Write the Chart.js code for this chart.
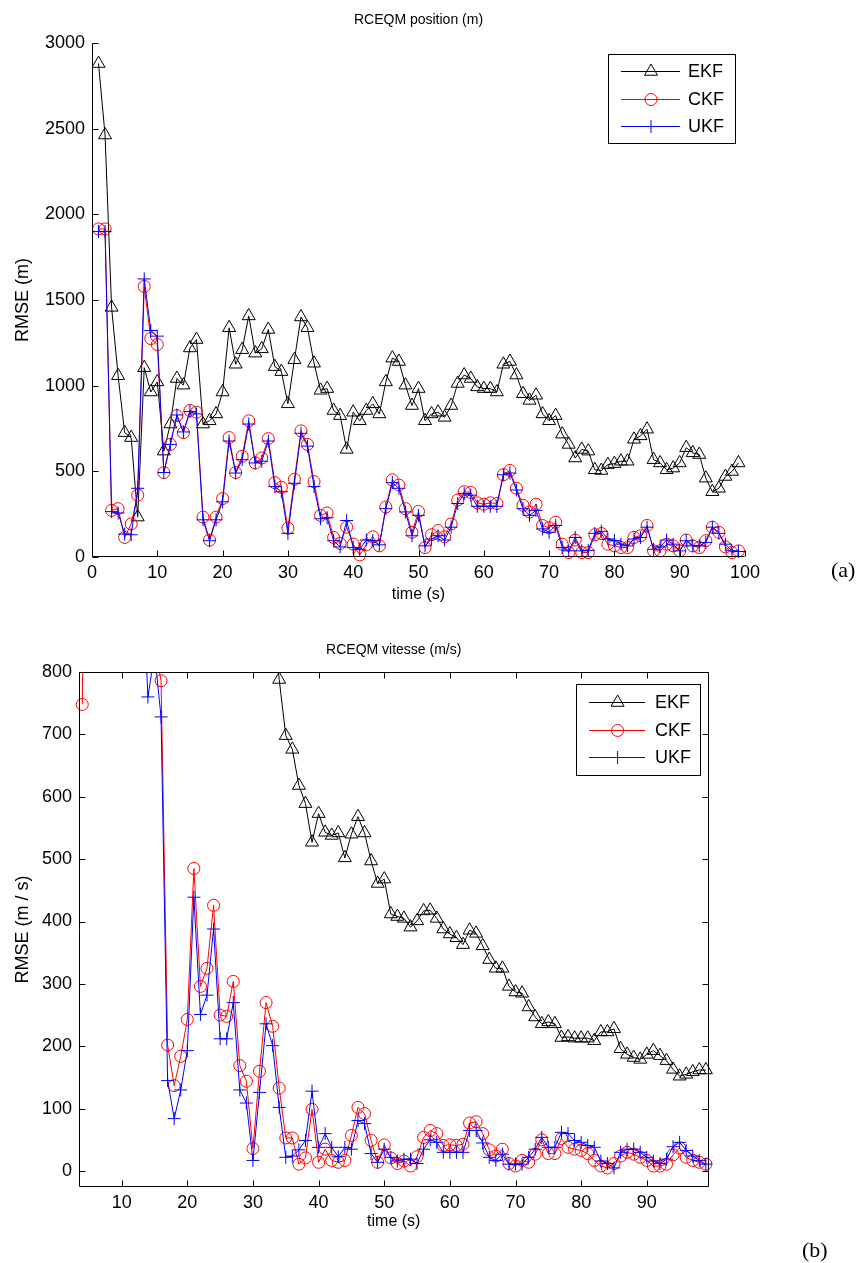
<!DOCTYPE html>
<html><head><meta charset="utf-8">
<script src="https://cdn.jsdelivr.net/npm/chart.js@4.4.0/dist/chart.umd.min.js"></script>
<style>
html,body{margin:0;padding:0;background:#fff;width:861px;height:1263px;overflow:hidden;position:relative}
canvas{position:absolute;left:0}
#c1{top:0}
#c2{top:620px}
.lab{position:absolute;font-family:"Liberation Serif","Times New Roman",serif;font-size:22px;line-height:22px;color:#000}
</style></head><body>
<canvas id="c1" width="861" height="620" style="width:861px;height:620px"></canvas>
<canvas id="c2" width="861" height="643" style="width:861px;height:643px"></canvas>
<div class="lab" style="left:831px;top:559px">(a)</div>
<div class="lab" style="left:802px;top:1239px">(b)</div>
<script>
// ---------- data ----------
const time = [1,2,3,4,5,6,7,8,9,10,11,12,13,14,15,16,17,18,19,20,21,22,23,24,25,26,27,28,29,30,31,32,33,34,35,36,37,38,39,40,41,42,43,44,45,46,47,48,49,50,51,52,53,54,55,56,57,58,59,60,61,62,63,64,65,66,67,68,69,70,71,72,73,74,75,76,77,78,79,80,81,82,83,84,85,86,87,88,89,90,91,92,93,94,95,96,97,98,99];
const seriesNames = ['EKF','CKF','UKF'];

// (a) RCEQM position (m)
const ekfPos = [2880,2463,1457,1058,726,697,233,1105,963,1022,
 618,776,1042,1003,1220,1269,776,795,835,963,
 1338,1125,1210,1407,1190,1215,1328,1111,1082,894,
 1151,1401,1338,1131,973,983,855,825,628,845,
 795,855,894,835,1022,1161,1141,1003,884,983,
 795,835,845,815,884,1013,1062,1042,993,983,
 983,963,1125,1141,1062,953,914,944,835,795,
 825,717,657,578,628,618,509,505,539,545,
 559,559,687,707,746,568,549,509,519,549,
 638,608,598,460,381,401,470,499,549];
const ckfPos = [1915,1915,272,282,114,193,361,1579,1275,1240,
 493,657,825,726,855,845,233,99,233,341,
 697,493,588,795,549,578,691,434,407,168,
 454,736,657,440,243,257,114,79,174,75,
 12,71,118,65,292,450,420,282,144,266,
 55,130,154,118,193,332,381,377,316,308,
 316,312,480,505,401,302,263,308,184,170,
 203,75,26,99,26,26,130,137,75,65,
 55,55,114,124,184,36,36,75,65,36,
 99,65,55,95,174,144,59,26,36];
const ukfPos = [1900,1900,265,257,134,130,401,1623,1322,1289,
 493,657,829,730,849,835,217,95,217,322,
 677,490,568,776,549,559,677,411,381,138,
 430,722,647,411,223,229,95,59,213,55,
 45,99,95,71,282,434,401,263,124,243,
 65,105,124,99,174,312,371,361,296,296,
 296,296,480,490,391,282,243,272,164,144,
 184,55,36,114,36,39,138,150,105,95,
 75,65,105,114,174,45,59,99,75,36,
 95,65,65,85,174,138,75,36,32];

// (b) RCEQM vitesse (m/s)  (values above 800 are off-scale estimates)
const ekfVel = [null,null,null,2650,2480,2350,2210,2080,1960,1850,
 1760,1670,1590,1500,1430,1370,1300,1250,1190,1150,
 1100,1060,1030,1000,985,970,955,940,930,920,
 915,910,900,788,698,676,618,589,527,573,
 543,538,542,502,540,568,542,497,461,468,
 412,408,405,391,401,417,418,405,388,380,
 374,363,386,381,361,339,325,325,296,287,
 285,263,247,236,239,236,214,215,213,213,
 213,209,223,223,228,196,187,182,179,187,
 193,185,177,163,152,155,159,162,162];
const ckfVel = [null,null,null,748,1500,1750,1650,1900,1550,1450,
 1300,1250,1150,1050,840,786,202,137,184,243,
 485,296,325,426,250,248,304,169,144,36,
 160,270,232,133,53,53,11,21,99,14,
 35,17,14,17,57,102,92,49,14,42,
 21,12,16,8,23,54,65,60,41,42,
 41,43,77,79,60,34,24,35,12,8,
 17,14,27,50,28,28,52,38,35,33,
 28,17,8,5,12,24,30,27,22,17,
 8,8,11,26,37,22,17,14,11];
const ukfVel = [null,null,null,1000,1600,1750,1650,1900,1550,1450,
 1300,1250,1000,760,830,728,145,84,130,193,
 439,251,282,388,212,212,270,130,109,17,
 126,236,201,102,22,24,34,49,128,38,
 60,38,23,38,35,81,76,28,14,35,
 22,16,19,19,12,35,50,46,30,30,
 30,30,65,65,45,22,17,27,11,11,
 11,22,35,54,38,38,62,60,49,46,
 41,38,16,12,5,30,35,35,30,22,
 16,12,19,39,46,33,24,17,11];

const xTicksA = [0,10,20,30,40,50,60,70,80,90,100];
const yTicksA = [0,500,1000,1500,2000,2500,3000];
const xTicksB = [10,20,30,40,50,60,70,80,90];
const yTicksB = [0,100,200,300,400,500,600,700,800];

// ---------- styling ----------
const FONT = '"Liberation Sans", Arial, Helvetica, sans-serif';
const TICK_SIZE = 18, YLAB_SIZE = 18, XLAB_SIZE = 16, TITLE_SIZE = 14, LEG_SIZE = 18;
Chart.defaults.font.family = FONT;
Chart.defaults.font.size = 16;
Chart.defaults.color = '#000';

const styles = [
  {color:'#000000', pointStyle:'triangle', radius:7.5, order:3},
  {color:'#ff0000', pointStyle:'circle', radius:6, order:2},
  {color:'#0000ff', pointStyle:'cross', radius:6.5, order:1}
];

function makeDatasets(lists, clip){
  return lists.map((vals,i)=>({
    label: seriesNames[i],
    data: time.map((t,k)=>({x:t, y:vals[k]})),
    borderColor: styles[i].color,
    backgroundColor: 'rgba(0,0,0,0)',
    pointBackgroundColor: 'rgba(0,0,0,0)',
    pointBorderColor: styles[i].color,
    pointStyle: styles[i].pointStyle,
    pointRadius: styles[i].radius,
    pointBorderWidth: 1,
    borderWidth: 1,
    tension: 0,
    spanGaps: false,
    order: styles[i].order,
    clip: clip
  }));
}

const framePlugin = {
  id:'frame',
  afterDatasetsDraw(chart, args, o){
    const {ctx, chartArea:a, scales:{x,y}} = chart;
    ctx.save();
    ctx.strokeStyle='#000'; ctx.lineWidth=1;
    const L=Math.round(a.left)+0.5, R=Math.round(a.right)-0.5, T=Math.round(a.top)+0.5, B=Math.round(a.bottom)-0.5;
    ctx.beginPath();
    if(o.box){ ctx.moveTo(L,T); ctx.lineTo(R,T); ctx.lineTo(R,B); ctx.lineTo(L,B); ctx.closePath(); }
    else { ctx.moveTo(L,T); ctx.lineTo(L,B); ctx.lineTo(R,B); }
    ctx.stroke();
    const tl=o.tick;
    ctx.beginPath();
    x.ticks.forEach(t=>{const p=Math.round(x.getPixelForValue(t.value))+0.5; ctx.moveTo(p,B); ctx.lineTo(p,B-tl); if(o.box){ctx.moveTo(p,T); ctx.lineTo(p,T+tl);} });
    y.ticks.forEach(t=>{const p=Math.round(y.getPixelForValue(t.value))+0.5; ctx.moveTo(L,p); ctx.lineTo(L+tl,p); if(o.box){ctx.moveTo(R,p); ctx.lineTo(R-tl,p);} });
    ctx.stroke();
    ctx.restore();
  }
};

function drawMarker(ctx, style, r, cx, cy){
  ctx.beginPath();
  if(style==='triangle'){
    ctx.moveTo(cx, cy-r); ctx.lineTo(cx+0.866*r, cy+0.5*r); ctx.lineTo(cx-0.866*r, cy+0.5*r); ctx.closePath();
  } else if(style==='circle'){
    ctx.arc(cx,cy,r,0,Math.PI*2);
  } else {
    ctx.moveTo(cx-r,cy); ctx.lineTo(cx+r,cy); ctx.moveTo(cx,cy-r); ctx.lineTo(cx,cy+r);
  }
  ctx.stroke();
}

const boxLegendPlugin = {
  id:'boxLegend',
  afterDraw(chart, args, o){
    const {ctx, chartArea:a} = chart;
    const bx=Math.round(a.right-o.right-o.w), by=Math.round(a.top+o.top);
    ctx.save();
    ctx.fillStyle='#fff'; ctx.fillRect(bx,by,o.w,o.h);
    ctx.strokeStyle='#000'; ctx.lineWidth=1; ctx.strokeRect(bx+0.5,by+0.5,o.w,o.h);
    seriesNames.forEach((name,i)=>{
      const d = chart.data.datasets[i];
      const yy = Math.round(by+o.rows[i])+0.5;
      ctx.strokeStyle=d.borderColor; ctx.lineWidth=1;
      ctx.beginPath(); ctx.moveTo(bx+o.x0,yy); ctx.lineTo(bx+o.x1,yy); ctx.stroke();
      drawMarker(ctx, d.pointStyle, d.pointRadius, bx+o.xm, yy);
      ctx.fillStyle='#000'; ctx.font=LEG_SIZE+'px '+FONT; ctx.textBaseline='middle'; ctx.textAlign='left';
      ctx.fillText(name, bx+o.tx, yy+1);
    });
    ctx.restore();
  }
};

function buildChart(canvas, cfg){
  return new Chart(canvas, {
    type:'line',
    data:{datasets: makeDatasets(cfg.lists, cfg.clip)},
    options:{
      responsive:false, animation:false, events:[],
      layout:{padding:{left:0, right:cfg.padRight, top:0, bottom:0}},
      plugins:{
        legend:{display:false}, tooltip:{enabled:false},
        title:{display:true, fullSize:false, text:cfg.title, color:'#000', font:{size:TITLE_SIZE, weight:'normal'}, padding:{top:cfg.titleTop, bottom:cfg.titleBottom}},
        frame:{box:cfg.box, tick:6},
        boxLegend:cfg.legend
      },
      scales:{
        x:{type:'linear', min:cfg.xmin, max:cfg.xmax,
           afterBuildTicks:s=>{s.ticks=cfg.xTicks.map(v=>({value:v}));},
           afterFit:s=>{s.height=cfg.xAxisH;},
           ticks:{autoSkip:false, maxRotation:0, padding:5, color:'#000', font:{size:TICK_SIZE}, callback:v=>String(v)},
           grid:{display:false, drawTicks:false}, border:{display:false},
           title:{display:true, text:'time (s)', color:'#000', font:{size:XLAB_SIZE}, padding:{top:0, bottom:cfg.xTitlePad}}},
        y:{type:'linear', min:cfg.ymin, max:cfg.ymax,
           afterBuildTicks:s=>{s.ticks=cfg.yTicks.map(v=>({value:v}));},
           afterFit:s=>{s.width=cfg.yAxisW;},
           ticks:{autoSkip:false, padding:7, color:'#000', font:{size:TICK_SIZE}, callback:v=>String(v)},
           grid:{display:false, drawTicks:false}, border:{display:false},
           title:{display:true, text:cfg.yTitle, color:'#000', font:{size:YLAB_SIZE}, padding:{top:12.2, bottom:0}}}
      }
    },
    plugins:[framePlugin, boxLegendPlugin]
  });
}

buildChart(document.getElementById('c1'), {
  lists:[ekfPos, ckfPos, ukfPos], clip:false,
  title:'RCEQM position (m)', titleTop:11.6, titleBottom:14.6,
  padRight:116, xmin:0, xmax:100, ymin:0, ymax:3000,
  xTicks:xTicksA, yTicks:yTicksA, xAxisH:63, yAxisW:92, xTitlePad:15.4,
  yTitle:'RMSE (m)', box:false,
  legend:{w:127, h:89, right:10, top:11, rows:[17,45,72], x0:13, x1:72, xm:43, tx:80}
});

buildChart(document.getElementById('c2'), {
  lists:[ekfVel, ckfVel, ukfVel], clip:{left:8, right:8, top:0, bottom:8},
  title:'RCEQM vitesse (m/s)', titleTop:21.6, titleBottom:13.6,
  padRight:152.5, xmin:3.5, xmax:99.4, ymin:-25.6, ymax:800,
  xTicks:xTicksB, yTicks:yTicksB, xAxisH:76, yAxisW:79, xTitlePad:32,
  yTitle:'RMSE (m / s)', box:true,
  legend:{w:124, h:91, right:8.5, top:12, rows:[18.4,45.5,72.6], x0:13, x1:69, xm:41.6, tx:79}
});
</script>
</body></html>
